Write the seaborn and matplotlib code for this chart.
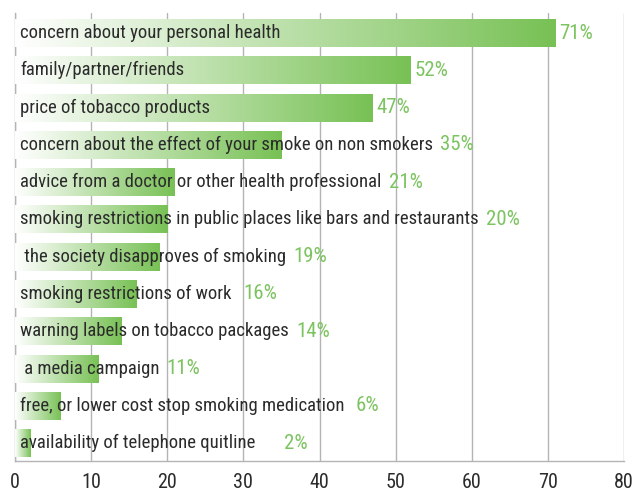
import matplotlib
matplotlib.use("Agg")
import matplotlib.pyplot as plt
import numpy as np
import pandas as pd
import seaborn as sns
from matplotlib.colors import LinearSegmentedColormap
from matplotlib import font_manager

categories = [
    "concern about your personal health",
    "family/partner/friends",
    "price of tobacco products",
    "concern about the effect of your smoke on non smokers",
    "advice from a doctor or other health professional",
    "smoking restrictions in public places like bars and restaurants",
    " the society disapproves of smoking",
    "smoking restrictions of work ",
    "warning labels on tobacco packages",
    " a media campaign",
    "free, or lower cost stop smoking medication ",
    "availability of telephone quitline     ",
]
values = [71, 52, 47, 35, 21, 20, 19, 16, 14, 11, 6, 2]
pct_labels = ["71%", "52%", "47%", "35%", "21%", "20%", "19%", "16%", "14%", "11%", "6%", "2%"]
xticks = [0, 10, 20, 30, 40, 50, 60, 70, 80]

sns.set_style("white")
names = {f.name for f in font_manager.fontManager.ttflist}
fam = "Roboto Condensed" if "Roboto Condensed" in names else "DejaVu Sans"
plt.rcParams["font.family"] = [fam, "DejaVu Sans"]

GREEN = "#78c155"
PCT = "#7cc460"
TEXT = "#2b2b2b"
GRID = "#b4b4b4"
FS = 13.5
FS_PCT = 15
FS_TICK = 14.5

fig = plt.figure(figsize=(6.33, 4.92), dpi=100)
ax = fig.add_axes([15 / 633, 31 / 492, 609 / 633, 448 / 492])

df = pd.DataFrame({"cat": categories, "val": values})
sns.barplot(data=df, x="val", y="cat", orient="h", width=0.75, color=GREEN, ax=ax)

ax.set_xticks(xticks)
ax.set_xticklabels([str(t) for t in xticks], fontsize=FS_TICK, color=TEXT)
ax.set_yticks([])
ax.set_xlabel("")
ax.set_ylabel("")
ax.tick_params(axis="x", length=0, pad=9)
ax.set_axisbelow(True)
ax.grid(axis="x", color=GRID, linewidth=1.0)
ax.grid(axis="y", visible=False)
for s in ["top", "right"]:
    ax.spines[s].set_visible(False)
for s in ["left", "bottom"]:
    ax.spines[s].set_color(GRID)
    ax.spines[s].set_linewidth(1.0)
ax.spines["left"].set_zorder(0.6)

cmap = LinearSegmentedColormap.from_list("wg", ["#ffffff", GREEN])
grad = np.linspace(0, 1, 256).reshape(1, -1)
for p in ax.patches:
    x0, y0 = p.get_x(), p.get_y()
    w, h = p.get_width(), p.get_height()
    p.set_facecolor("none")
    p.set_edgecolor("none")
    im = ax.imshow(grad, cmap=cmap, aspect="auto", extent=[x0, x0 + w, y0 + h, y0],
                   interpolation="bicubic", zorder=2.7)
    im.set_clip_path(p)
ax.set_xlim(0, 80)
ax.set_ylim(11.48, -0.537)

texts = []
for i, c in enumerate(categories):
    t = ax.text(0.7, i, c, va="center", ha="left", fontsize=FS, color=TEXT, zorder=4)
    texts.append(t)

fig.canvas.draw()
r = fig.canvas.get_renderer()
inv = ax.transData.inverted()
for i, (t, v, lab) in enumerate(zip(texts, values, pct_labels)):
    bb = t.get_window_extent(renderer=r)
    tx_end = inv.transform((bb.x1, 0))[0]
    if tx_end > v:
        xs = tx_end + 0.9
    else:
        xs = v + 0.5
    ax.text(xs, i, lab, va="center", ha="left", fontsize=FS_PCT, color=PCT, zorder=4)

fig.savefig("out.png", dpi=100)
